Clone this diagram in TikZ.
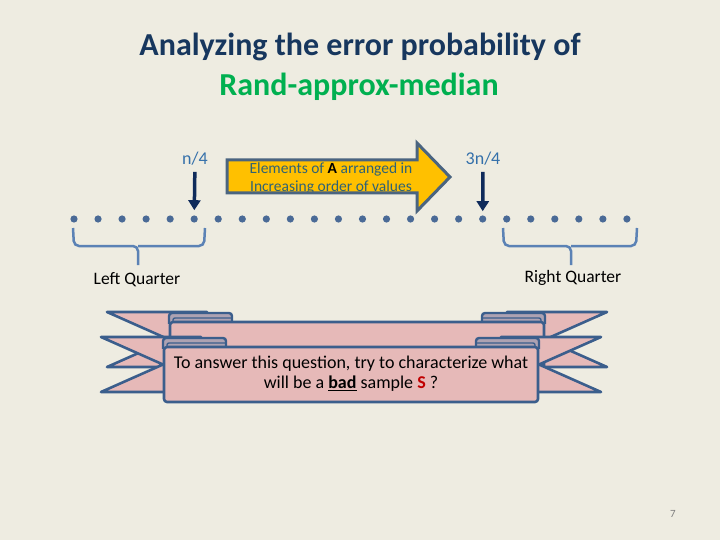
\documentclass[tikz,border=0pt]{standalone}
\usepackage{fontspec}
\setmainfont{Carlito}
\usepackage{xcolor}
\usepackage{tikz}
\usetikzlibrary{arrows.meta,positioning}

\definecolor{slidebg}{HTML}{EEECE1}
\definecolor{titlenavy}{HTML}{17375E}
\definecolor{titlegreen}{HTML}{00B050}
\definecolor{dotblue}{HTML}{4A6A96}
\definecolor{bracecol}{HTML}{5B82B5}
\definecolor{markcol}{HTML}{0F2B5B}
\definecolor{fracblue}{HTML}{3470AA}
\definecolor{orangefill}{HTML}{FFC000}
\definecolor{orangeline}{HTML}{4A6480}
\definecolor{orangetext}{HTML}{2F6275}
\definecolor{ribbonpink}{HTML}{E6B9B8}
\definecolor{ribbonline}{HTML}{3B5E8C}
\definecolor{foldmauve}{HTML}{ADA2B2}
\definecolor{badred}{HTML}{C00000}

\tikzset{
  dot/.style={circle, fill=dotblue, minimum size=7.2pt, inner sep=0pt},
  fraclabel/.style={text=fracblue, font=\fontsize{18}{20}\selectfont, inner sep=0pt},
  marker/.style={-{Triangle[length=10pt,width=12pt]}, markcol, line width=3.5pt},
  bracket/.style={bracecol, line width=2.5pt, rounded corners=5pt},
  quarter/.style={font=\fontsize{17.5}{20}\selectfont, inner sep=0pt},
  ribbon/.style={fill=ribbonpink, draw=ribbonline, line width=2.6pt, line join=round},
  fold/.style={fill=foldmauve, draw=ribbonline, line width=2.4pt, rounded corners=3pt}
}

\begin{document}
\begin{tikzpicture}[x=1pt, y=-1pt]
    % Slide background
    \fill[slidebg] (0,0) rectangle (720,540);
    \useasboundingbox (0,0) rectangle (720,540);

    % Title
    \node[font=\bfseries\fontsize{32}{38}\selectfont, text=titlenavy] (title) at (360,47) {Analyzing the error probability of};
    \node[font=\bfseries\fontsize{32}{38}\selectfont, text=titlegreen] (algo) at (359,87) {Rand-approx-median};

    % Sorted elements
    \foreach \i in {0,...,23}
        \node[dot] (d\i) at ({74+\i*24.04},219) {};

    % Quartile markers
    \node[fraclabel] (nq) at (195,159) {n/4};
    \node[fraclabel] (tnq) at (483,159) {3n/4};
    \draw[marker, shorten <=6pt, shorten >=5pt] (nq) -- (d5);
    \draw[marker, shorten <=6pt, shorten >=4pt] (tnq) -- (d17);

    % Increasing order arrow
    \fill[orangefill] (227,160) -- (417,160) -- (417,143) -- (450,177) -- (417,211) -- (417,193) -- (227,193) -- cycle;
    \begin{scope}
        \clip (227,160) rectangle (417,193);
        \node[text=orangetext, font=\fontsize{15.5}{18}\selectfont, align=center, inner sep=0pt] (order) at (331,178)
            {Elements of \textbf{\textcolor{black}{A}} arranged in\\Increasing order of values};
    \end{scope}
    \draw[orangeline, line width=3pt, line join=miter] (227,160) -- (417,160) -- (417,143) -- (450,177) -- (417,211) -- (417,193) -- (227,193) -- cycle;

    % Quarters
    \draw[bracket] (73,228) -- (74,246) -- (138,246) -- (138,265);
    \draw[bracket] (205,228) -- (204,246) -- (138,246);
    \draw[bracket] (503,228) -- (504,246) -- (571,246) -- (571,265);
    \draw[bracket] (637,228) -- (636,246) -- (571,246);
    \coordinate (ltip) at (138,265);
    \coordinate (rtip) at (571,264);
    \node[quarter, below=7pt of ltip, xshift=-1pt] (leftq) {Left Quarter};
    \node[quarter, below=6pt of rtip, xshift=2pt] (rightq) {Right Quarter};

    % Ribbons (back one first)
    \foreach \cx/\ty in {357/312, 351/337} {
        \filldraw[ribbon] (\cx-250,\ty) -- (\cx-150,\ty) -- (\cx-150,\ty+55) -- (\cx-250,\ty+55) -- (\cx-188,\ty+27.5) -- cycle;
        \filldraw[ribbon] (\cx+250,\ty) -- (\cx+150,\ty) -- (\cx+150,\ty+55) -- (\cx+250,\ty+55) -- (\cx+188,\ty+27.5) -- cycle;
        \filldraw[fold] (\cx-188,\ty+12) -- (\cx-188,\ty+1) -- (\cx-125,\ty+1) -- (\cx-125,\ty+12);
        \filldraw[fold] (\cx+188,\ty+12) -- (\cx+188,\ty+1) -- (\cx+125,\ty+1) -- (\cx+125,\ty+12);
        \draw[ribbonline, line width=1.4pt, rounded corners=2pt] (\cx-184,\ty+11) -- (\cx-184,\ty+6) -- (\cx-126,\ty+6);
        \draw[ribbonline, line width=1.4pt, rounded corners=2pt] (\cx+184,\ty+11) -- (\cx+184,\ty+6) -- (\cx+126,\ty+6);
        \filldraw[ribbon, rounded corners=3pt] (\cx-187,\ty+10) rectangle (\cx+187,\ty+65);
    }
    \node[font=\fontsize{18}{20}\selectfont, align=center, inner sep=0pt] (question) at (351,374)
        {To answer this question, try to characterize what\\will be a \textbf{\underline{bad}} sample \textcolor{badred}{\textbf{S}} ?};

    % Slide number
    \node[text=gray, font=\fontsize{11}{13}\selectfont] (pnum) at (673,514) {7};
\end{tikzpicture}
\end{document}
